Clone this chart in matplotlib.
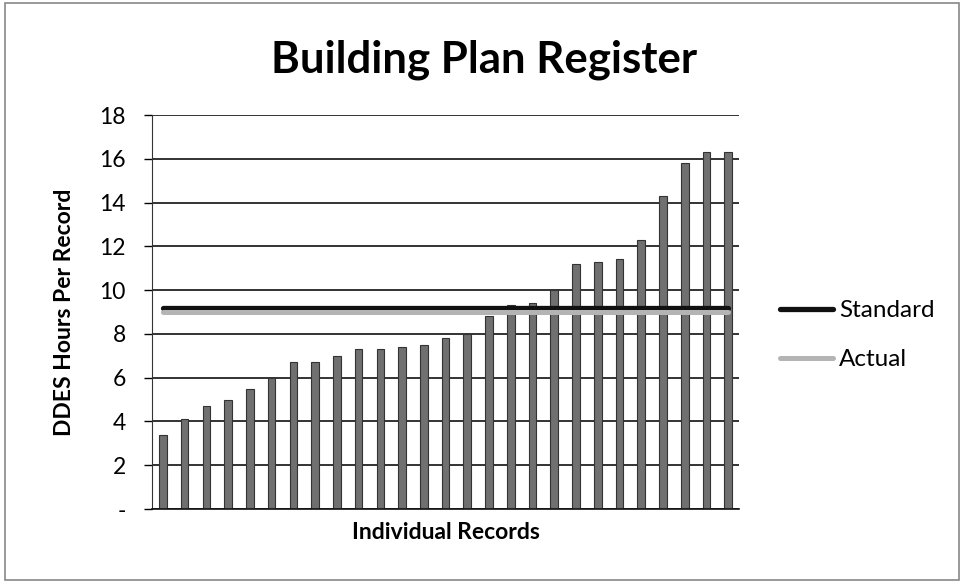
import numpy as np
import matplotlib
matplotlib.use("Agg")
from matplotlib import pyplot as plt
from matplotlib.patches import Rectangle

plt.rcParams['font.family'] = ['Lato', 'DejaVu Sans']

# hours per record, one bar per record (sorted)
hours = [3.4, 4.1, 4.7, 5.0, 5.5, 6.0, 6.7, 6.7, 7.0, 7.3, 7.3, 7.4, 7.5, 7.8,
         8.0, 8.8, 9.3, 9.4, 10.0, 11.2, 11.3, 11.4, 12.3, 14.3, 15.8, 16.3, 16.3]
standard = 9.2
actual = 9.0
yticks = [0, 2, 4, 6, 8, 10, 12, 14, 16, 18]
ytick_labels = ['-', '2', '4', '6', '8', '10', '12', '14', '16', '18']

x = np.arange(len(hours))

fig = plt.figure(figsize=(9.64, 5.83), dpi=100)
ax = fig.add_axes([0.1577, 0.1269, 0.609, 0.6758])

ax.bar(x, hours, width=0.35, color='#707070', edgecolor='#333333', lw=0.8, zorder=2)
ax.plot([x[0], x[-1]], [standard, standard], color='#111111', lw=3.8,
        solid_capstyle='round', zorder=3, label='Standard')
ax.plot([x[0], x[-1]], [actual, actual], color='#b4b4b4', lw=3.6,
        solid_capstyle='round', zorder=3, label='Actual')

ax.set_xlim(-0.5, len(hours) - 0.5)
ax.set_ylim(0, 18)
ax.set_yticks(yticks)
ax.set_yticklabels(ytick_labels, fontsize=16.5)
ax.set_xticks([])
ax.tick_params(axis='y', direction='out', length=6, width=1, pad=13)
ax.yaxis.grid(True, color='#111111', lw=1.2, zorder=1)
ax.set_axisbelow(True)
for side in ['top', 'right']:
    ax.spines[side].set_visible(False)
ax.spines['left'].set_color('#333333')
ax.spines['bottom'].set_color('#111111')
ax.spines['bottom'].set_linewidth(1.2)

ax.set_ylabel('DDES Hours Per Record', fontsize=16.5, fontweight='bold', labelpad=17)
ax.set_xlabel('Individual Records', fontsize=16.5, fontweight='bold', labelpad=9)
fig.text(0.502, 0.898, 'Building Plan Register', ha='center', va='center',
         fontsize=31.5, fontweight='bold')

fig.legend(loc='center left', bbox_to_anchor=(0.786, 0.425), frameon=False,
           fontsize=17.5, handlelength=2.2, handletextpad=0.25, labelspacing=1.15)

fig.patches.append(Rectangle((0.005, 0.005), 0.99, 0.99, transform=fig.transFigure,
                             fill=False, edgecolor='#888888', lw=1.2))

fig.savefig('out.png', dpi=100)
